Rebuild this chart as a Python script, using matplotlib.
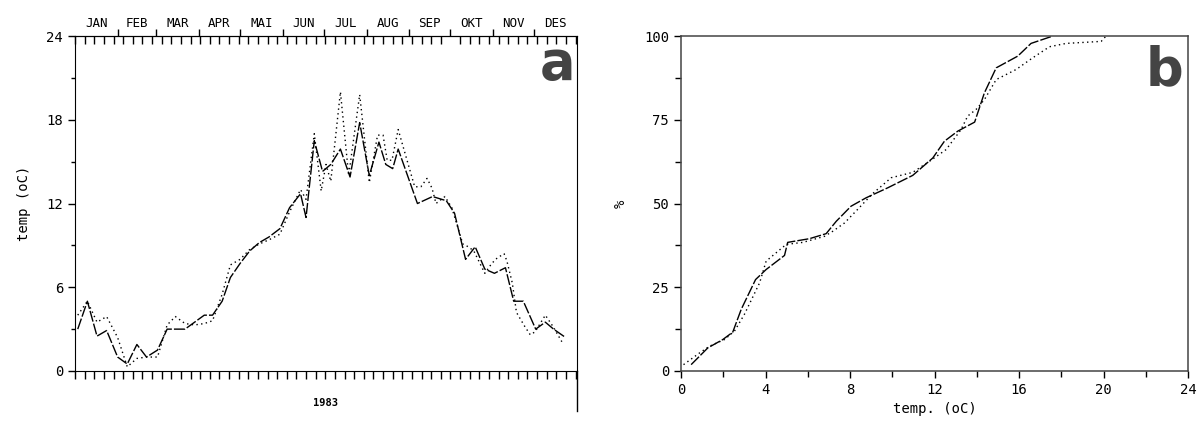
import numpy as np
import matplotlib
matplotlib.use("Agg")
import matplotlib.pyplot as plt

# --- panel a: weekly temperature 1983 (day of year, degC) ---
day_solid = [2, 9, 16, 23, 31, 38, 45, 52, 60, 67, 73, 80, 87, 94, 100, 107,
             113, 120, 127, 134, 141, 149, 156, 164, 168, 174, 180, 186, 193,
             200, 207, 214, 221, 226, 231, 235, 249, 260, 270, 276, 284, 291,
             298, 305, 313, 319, 326, 335, 342, 348, 356]
temp_solid = [3.0, 5.0, 2.5, 2.9, 1.0, 0.5, 1.9, 1.0, 1.5, 3.0, 3.0, 3.0, 3.5,
              4.0, 4.0, 5.0, 6.7, 7.7, 8.6, 9.2, 9.6, 10.2, 11.7, 12.7, 11.0,
              16.5, 14.3, 14.8, 15.9, 13.9, 17.8, 14.0, 16.4, 14.8, 14.5, 15.9,
              12.0, 12.5, 12.2, 11.3, 8.0, 8.9, 7.3, 7.0, 7.4, 5.0, 5.0, 3.0,
              3.5, 3.0, 2.45]

day_dotted = [2, 9, 16, 23, 31, 38, 45, 52, 60, 67, 73, 80, 87, 94, 100, 107,
              113, 120, 127, 134, 141, 149, 156, 164, 168, 174, 179, 182.5,
              186, 193, 199, 207, 214, 220, 224, 227, 230.5, 235, 247, 251.5,
              256, 259.6, 262.5, 269, 274, 282, 286, 290, 294.5, 298, 303, 307,
              312, 314, 318, 321, 327, 331, 334.5, 342, 347.5, 354]
temp_dotted = [4.0, 5.0, 3.5, 3.9, 2.4, 0.3, 0.9, 1.0, 1.0, 3.3, 3.9, 3.4, 3.3,
               3.4, 3.6, 5.5, 7.6, 8.0, 8.7, 9.1, 9.4, 9.8, 11.4, 13.0, 12.3,
               17.0, 12.9, 14.8, 13.6, 20.0, 14.0, 19.8, 13.5, 16.9, 16.9, 15.1,
               15.1, 17.3, 13.2, 13.2, 13.8, 13.1, 12.0, 12.5, 11.7, 9.1, 8.9,
               8.6, 7.7, 7.0, 7.7, 8.1, 8.4, 7.9, 6.3, 4.2, 3.2, 2.6, 2.8, 4.0,
               3.2, 2.1]

months = ['JAN', 'FEB', 'MAR', 'APR', 'MAI', 'JUN', 'JUL', 'AUG', 'SEP',
          'OKT', 'NOV', 'DES']
month_days = [31, 28, 31, 30, 31, 30, 31, 31, 30, 31, 30, 31]

# --- panel b: cumulative frequency (%) vs temperature ---
cum_t_solid = [0.48, 1.27, 1.98, 2.45, 2.85, 3.53, 4.03, 4.9, 5.05, 6.08, 6.87,
               7.35, 8.05, 8.76, 9.79, 10.97, 11.92, 12.47, 13.1, 13.9, 14.36,
               14.92, 15.94, 16.57, 17.6]
cum_p_solid = [1.9, 6.9, 9.4, 11.6, 18.4, 27.3, 30.3, 34.5, 38.4, 39.5, 41.0,
               44.7, 49.2, 51.7, 54.7, 58.4, 63.6, 68.6, 71.6, 74.3, 83.0, 90.5,
               94.0, 97.8, 100.0]
cum_t_dotted = [0.12, 0.88, 1.35, 2.06, 2.53, 3.0, 3.72, 4.03, 4.98, 5.77, 6.79,
                7.18, 7.74, 8.4, 9.08, 9.95, 10.97, 11.76, 12.55, 13.26, 13.57,
                13.97, 14.36, 14.92, 15.86, 16.65, 17.44, 18.23, 19.89, 20.12]
cum_p_dotted = [1.9, 5.4, 7.4, 9.4, 11.9, 16.9, 26.3, 32.8, 37.8, 38.4, 40.2,
                41.7, 44.2, 48.5, 53.0, 57.7, 59.3, 62.6, 66.1, 72.1, 76.1, 78.1,
                81.0, 87.0, 90.0, 93.5, 96.8, 97.8, 98.4, 100.0]

MONO = 'DejaVu Sans Mono'
dash_style = (0, (8, 1.5))
dot_style = (0, (1, 2.4))
LW = 1.0

fig = plt.figure(figsize=(12, 4.24), dpi=100)

# ---------------- panel a ----------------
ax1 = fig.add_axes([0.0625, 0.125, 0.4183, 0.790])
ax1.plot(day_solid, temp_solid, color='black', lw=LW, linestyle=dash_style)
ax1.plot(day_dotted, temp_dotted, color='black', lw=LW, linestyle=dot_style)
ax1.set_xlim(0, 365)
ax1.set_ylim(0, 24)
ax1.set_yticks([0, 6, 12, 18, 24])
ax1.set_yticks([3, 9, 15, 21], minor=True)
ax1.set_yticklabels(['0', '6', '12', '18', '24'], fontfamily=MONO, fontsize=10)
ax1.tick_params(axis='y', which='major', direction='out', length=5, width=1)
ax1.tick_params(axis='y', which='minor', direction='out', length=3, width=1)
ax1.set_ylabel('temp (oC)', fontfamily=MONO, fontsize=10, labelpad=11)

weeks = np.arange(0, 366, 7)
ax1.set_xticks([])
ax1.set_xticks(weeks, minor=True)
ax1.tick_params(axis='x', which='minor', direction='out', length=6, width=1,
                bottom=True, top=False)
ax1.set_xlabel('1983', fontfamily=MONO, fontsize=7.5, fontweight='bold',
               labelpad=10)

bounds = np.cumsum([0] + month_days)
mids = [(bounds[i] + bounds[i + 1]) / 2 for i in range(12)]

top1 = ax1.secondary_xaxis('top')
top1.set_xticks(bounds[1:-1])
top1.set_xticks(weeks, minor=True)
top1.set_xticklabels([])
top1.tick_params(which='major', direction='out', length=5, width=1)
top1.tick_params(which='minor', direction='in', length=6, width=1)

top2 = ax1.secondary_xaxis('top')
top2.set_xticks(mids)
top2.set_xticklabels(months, fontfamily=MONO, fontsize=9)
top2.tick_params(length=0, pad=4)
top2.spines['top'].set_visible(False)

# right border runs down past the x axis
ax1.plot([1, 1], [0, -0.12], transform=ax1.transAxes, color='black', lw=1,
         clip_on=False)

ax1.text(0.997, 0.995, 'a', transform=ax1.transAxes, ha='right', va='top',
         fontsize=38, fontweight='bold', color='#444444', family='DejaVu Sans')

# ---------------- panel b ----------------
ax2 = fig.add_axes([0.5675, 0.125, 0.4225, 0.790])
ax2.plot(cum_t_solid, cum_p_solid, color='black', lw=LW, linestyle=dash_style)
ax2.plot(cum_t_dotted, cum_p_dotted, color='black', lw=LW, linestyle=dot_style)
ax2.set_xlim(0, 24)
ax2.set_ylim(0, 100)
ax2.set_xticks([0, 4, 8, 12, 16, 20, 24])
ax2.set_xticks([2, 6, 10, 14, 18, 22], minor=True)
ax2.set_yticks([0, 25, 50, 75, 100])
ax2.set_yticks([12.5, 37.5, 62.5, 87.5], minor=True)
ax2.set_xticklabels([str(v) for v in [0, 4, 8, 12, 16, 20, 24]],
                    fontfamily=MONO, fontsize=10)
ax2.set_yticklabels([str(v) for v in [0, 25, 50, 75, 100]],
                    fontfamily=MONO, fontsize=10)
ax2.tick_params(which='major', direction='out', length=5, width=1)
ax2.tick_params(which='minor', direction='out', length=4, width=1)
ax2.set_xlabel('temp. (oC)', fontfamily=MONO, fontsize=10, labelpad=4)
ax2.set_ylabel('%', fontfamily=MONO, fontsize=10, labelpad=12)
for sp in ax2.spines.values():
    sp.set_color('#444444')
    sp.set_linewidth(1.1)

ax2.text(0.99, 0.975, 'b', transform=ax2.transAxes, ha='right', va='top',
         fontsize=38, fontweight='bold', color='#444444', family='DejaVu Sans')

fig.savefig('out.png', dpi=100)
